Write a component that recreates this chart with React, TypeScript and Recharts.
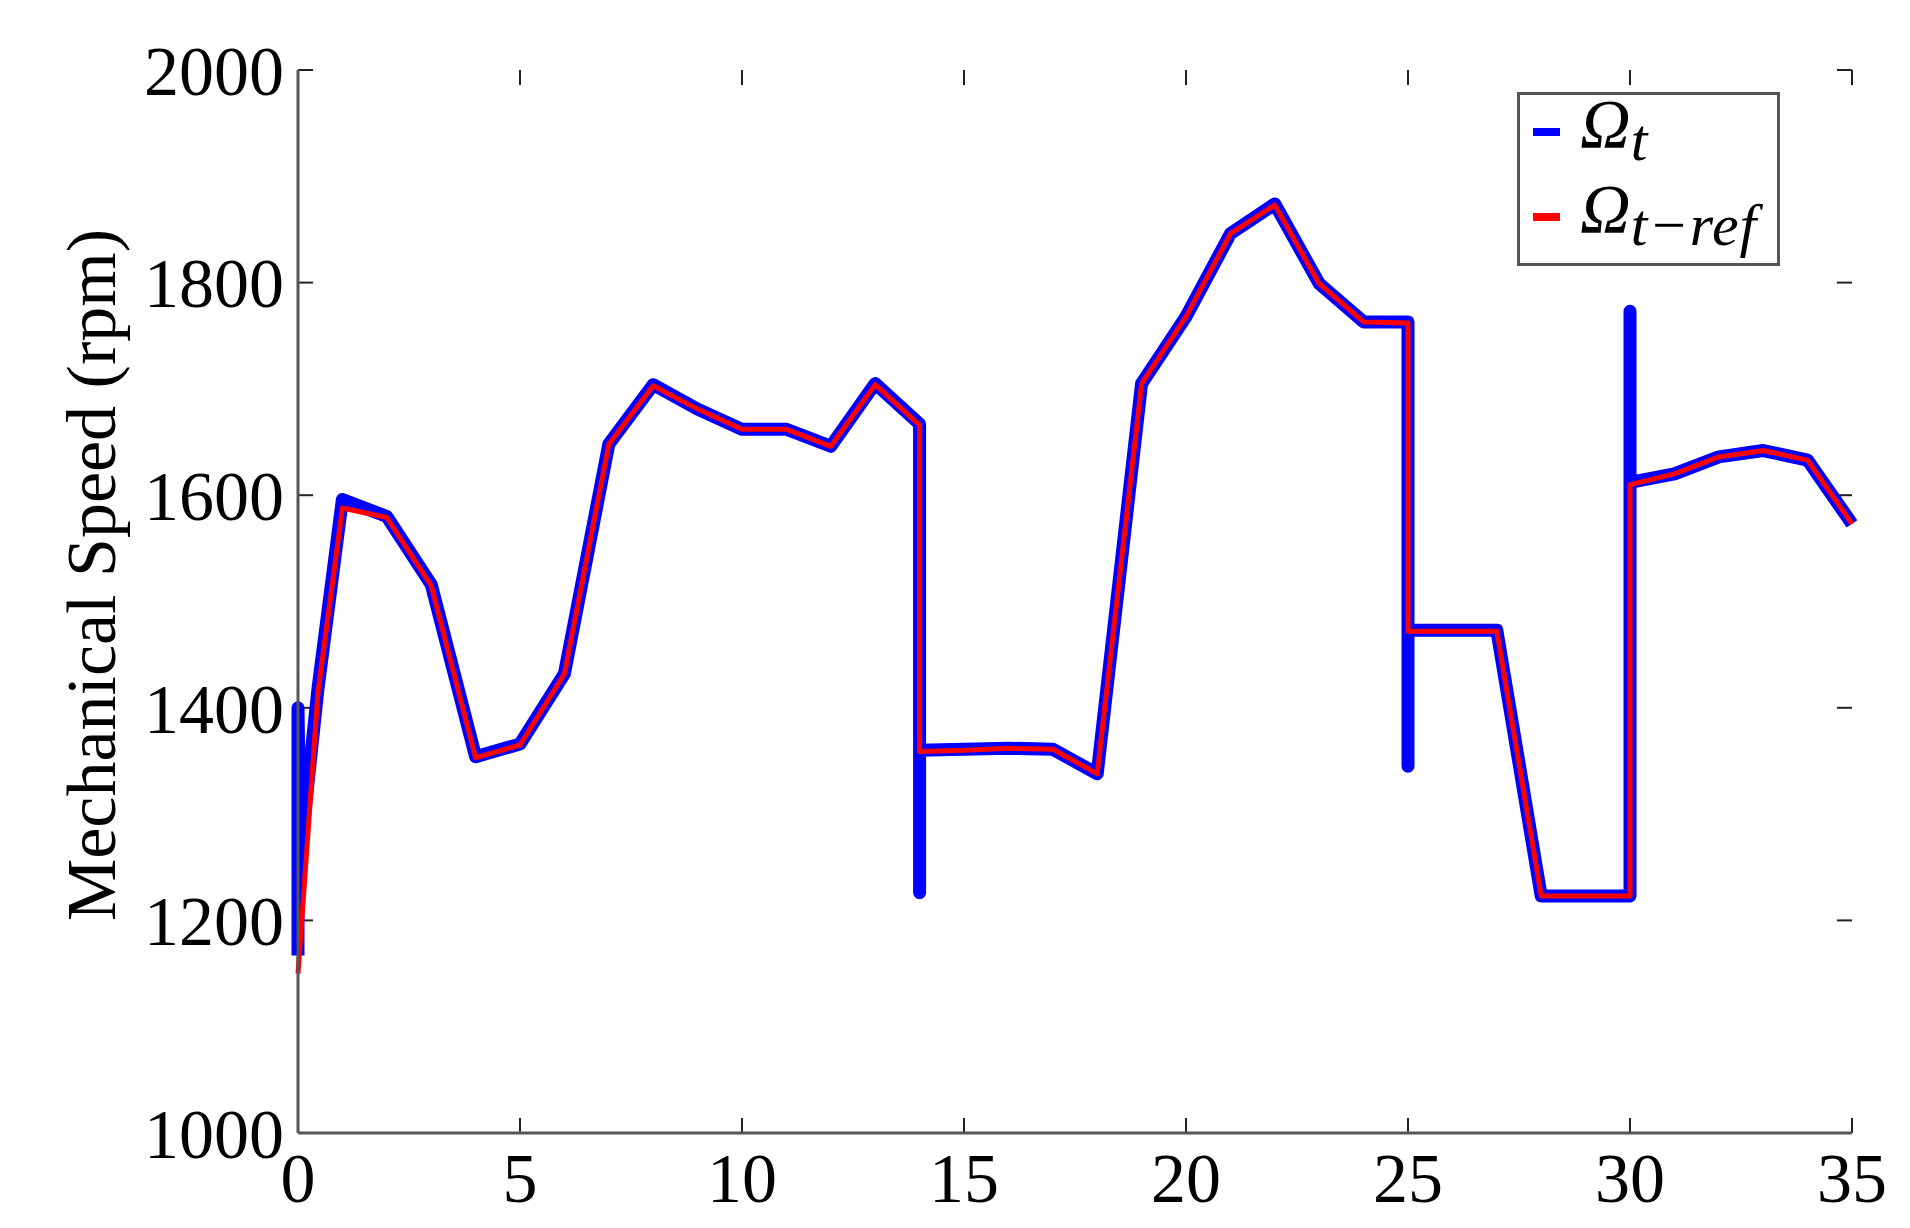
import { LineChart, Line, XAxis, YAxis, Legend, ReferenceLine } from 'recharts'

// time (s) and speed (rpm) of the reference speed
const refTime = [0, 0.45, 1, 2, 3, 4, 5, 6, 7, 8, 9, 10, 11, 12, 13, 14, 14, 15, 16, 17, 18, 19, 20, 21, 22, 23, 24, 25, 25, 26, 27, 28, 29, 30, 30, 31, 32, 33, 34, 35]
const refSpeed = [1150, 1415, 1588, 1579, 1515, 1353, 1365, 1432, 1648, 1703, 1681, 1662, 1662, 1646, 1704, 1666, 1359, 1360, 1362, 1361, 1338, 1705, 1768, 1846, 1873, 1799, 1763, 1762, 1472, 1472, 1472, 1223, 1223, 1223, 1610, 1620, 1636, 1642, 1633, 1573]

// measured turbine speed, with the transients at the steps
const measTime = [0, 0, 0.05, 0.45, 1, 2, 3, 4, 5, 6, 7, 8, 9, 10, 11, 12, 13, 14, 14, 14, 15, 16, 17, 18, 19, 20, 21, 22, 23, 24, 25, 25, 25, 26, 27, 28, 29, 30, 30, 30, 30, 31, 32, 33, 34, 35]
const measSpeed = [1167, 1400, 1260, 1418, 1596, 1580, 1516, 1354, 1366, 1432, 1648, 1704, 1681, 1662, 1662, 1646, 1705, 1667, 1226, 1360, 1361, 1362, 1361, 1338, 1705, 1768, 1846, 1874, 1799, 1763, 1763, 1345, 1473, 1473, 1473, 1223, 1223, 1223, 1773, 1485, 1612, 1620, 1636, 1642, 1633, 1573]

const xTicks = [0, 5, 10, 15, 20, 25, 30, 35]
const yTicks = [1000, 1200, 1400, 1600, 1800, 2000]

const refData = refTime.map((t, i) => ({ t, v: refSpeed[i] }))
const measData = measTime.map((t, i) => ({ t, v: measSpeed[i] }))

const X_MIN = 0
const X_MAX = 35
const Y_MIN = 1000
const Y_MAX = 2000
// inward tick length, in axis units (about 15px)
const TICK_DX = 0.34
const TICK_DY = 14

const FONT = '"Liberation Serif", "Times New Roman", serif'
const AXIS = '#555'
const TICK = '#222'

function BottomTick({ x, y, payload }: any) {
  return (
    <text x={x} y={y} dy="0.71em" textAnchor="middle" fontSize={70} fontFamily={FONT} fill="#000">
      {payload.value}
    </text>
  )
}

function LeftTick({ x, y, payload }: any) {
  return (
    <text x={x} y={y} dy="0.355em" textAnchor="end" fontSize={70} fontFamily={FONT} fill="#000">
      {payload.value}
    </text>
  )
}

function YLabel() {
  return (
    <text
      x={107}
      y={567}
      transform="rotate(-90 107 567)"
      textAnchor="middle"
      fontSize={70}
      fontFamily={FONT}
      fill="#000"
    >
      Mechanical Speed (rpm)
    </text>
  )
}

function LegendBox({ payload }: any) {
  const items = payload || []
  return (
    <svg width={263} height={174} style={{ display: 'block', overflow: 'visible' }}>
      <rect x={1.5} y={1.5} width={260} height={171} fill="#fff" stroke={AXIS} strokeWidth={3} />
      {items.map((item: any, i: number) => {
        const y = 40 + i * 85
        const sub = item.value === 'ref' ? 't\u2212ref' : 't'
        return (
          <g key={item.value}>
            <line x1={16} x2={43} y1={y} y2={y} stroke={item.color} strokeWidth={8} />
            <text x={63} y={y + 16} fontFamily={FONT} fontStyle="italic" fontSize={70} fill="#000">
              Ω
              <tspan fontSize={60} dy={12} letterSpacing={1}>{sub}</tspan>
            </text>
          </g>
        )
      })}
    </svg>
  )
}

export default function App() {
  return (
    <LineChart width={1894} height={1212} margin={{ top: 62, right: 50, bottom: 0, left: 0 }}>
      <XAxis
        xAxisId="bottom"
        type="number"
        dataKey="t"
        domain={[X_MIN, X_MAX]}
        ticks={xTicks}
        height={87}
        tickSize={0}
        tickMargin={19}
        tickLine={false}
        tick={<BottomTick />}
        stroke={AXIS}
        strokeWidth={3}
        interval={0}
      />
      <XAxis
        xAxisId="top"
        orientation="top"
        type="number"
        domain={[X_MIN, X_MAX]}
        height={0}
        tick={false}
        tickLine={false}
        stroke={AXIS}
        strokeWidth={3}
      />
      <YAxis
        yAxisId="left"
        type="number"
        domain={[Y_MIN, Y_MAX]}
        ticks={yTicks}
        width={290}
        tickSize={0}
        tickMargin={14}
        tickLine={false}
        tick={<LeftTick />}
        stroke={AXIS}
        strokeWidth={3}
        interval={0}
        label={{ value: 'Mechanical Speed (rpm)', content: () => <YLabel /> }}
      />
      <YAxis
        yAxisId="right"
        orientation="right"
        type="number"
        domain={[Y_MIN, Y_MAX]}
        width={0}
        tick={false}
        tickLine={false}
        stroke={AXIS}
        strokeWidth={3}
      />
      {xTicks.map((t) => (
        <ReferenceLine
          key={`xb${t}`}
          xAxisId="bottom"
          yAxisId="left"
          segment={[{ x: t, y: Y_MIN }, { x: t, y: Y_MIN + TICK_DY }]}
          stroke={TICK}
          strokeWidth={2}
        />
      ))}
      {xTicks.map((t) => (
        <ReferenceLine
          key={`xt${t}`}
          xAxisId="bottom"
          yAxisId="left"
          segment={[{ x: t, y: Y_MAX }, { x: t, y: Y_MAX - TICK_DY }]}
          stroke={TICK}
          strokeWidth={2}
        />
      ))}
      {yTicks.map((v) => (
        <ReferenceLine
          key={`yl${v}`}
          xAxisId="bottom"
          yAxisId="left"
          segment={[{ x: X_MIN, y: v }, { x: X_MIN + TICK_DX, y: v }]}
          stroke={TICK}
          strokeWidth={2}
        />
      ))}
      {yTicks.map((v) => (
        <ReferenceLine
          key={`yr${v}`}
          xAxisId="bottom"
          yAxisId="left"
          segment={[{ x: X_MAX, y: v }, { x: X_MAX - TICK_DX, y: v }]}
          stroke={TICK}
          strokeWidth={2}
        />
      ))}
      <Legend
        layout="vertical"
        verticalAlign="middle"
        align="center"
        wrapperStyle={{ top: 84, left: 1509, width: 263, height: 174 }}
        content={<LegendBox />}
      />
      <Line
        xAxisId="bottom"
        yAxisId="left"
        data={measData}
        dataKey="v"
        name="meas"
        stroke="#0000FF"
        strokeWidth={13}
        strokeLinejoin="round"
        dot={false}
        isAnimationActive={false}
      />
      <Line
        xAxisId="bottom"
        yAxisId="left"
        data={refData}
        dataKey="v"
        name="ref"
        stroke="#FF0000"
        strokeWidth={5}
        strokeLinejoin="round"
        dot={false}
        isAnimationActive={false}
      />
    </LineChart>
  )
}
